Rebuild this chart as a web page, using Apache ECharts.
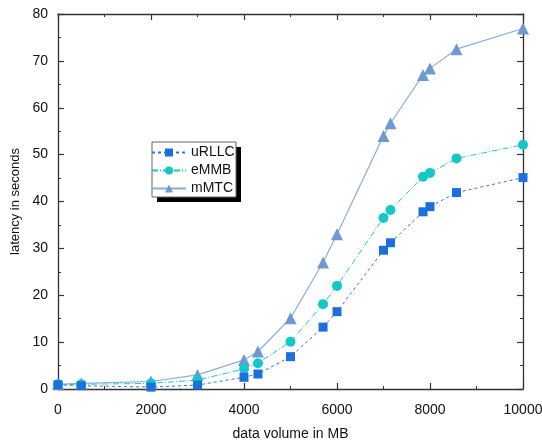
<!DOCTYPE html>
<html><head><meta charset="utf-8">
<script src="https://cdn.jsdelivr.net/npm/echarts@6/dist/echarts.min.js"></script>
<style>html,body{margin:0;padding:0;background:#fff}#c{width:542px;height:443px}</style>
</head><body><div id="c"></div>
<script>
const xValues = [0, 500, 2000, 3000, 4000, 4300, 5000, 5700, 6000, 7000, 7150, 7850, 8000, 8570, 10000];
const uRLLC = [0.9, 0.7, 0.4, 0.85, 2.5, 3.2, 6.9, 13.2, 16.5, 29.6, 31.2, 37.8, 38.9, 41.9, 45.1];
const eMMB  = [1.0, 1.0, 1.2, 1.9, 4.3, 5.5, 10.1, 18.1, 22.0, 36.5, 38.2, 45.3, 46.1, 49.2, 52.1];
const mMTC  = [1.0, 1.2, 1.6, 3.0, 6.2, 8.0, 15.1, 27.0, 33.0, 54.0, 56.7, 67.0, 68.4, 72.5, 76.9];
const seriesNames = ['uRLLC', 'eMMB', 'mMTC'];
const xTitle = 'data volume in MB';
const yTitle = 'latency in seconds';

const pair = (ys) => xValues.map((x, i) => [x, ys[i]]);
const font = 'Liberation Sans, Arial, sans-serif';
const axisCol = '#333';

const chart = echarts.init(document.getElementById('c'), null, {renderer: 'canvas'});
const baseX = {
  type: 'value', min: 0, max: 10000, interval: 2000,
  axisLine: {show: true, onZero: false, lineStyle: {color: axisCol, width: 1.3}},
  axisTick: {show: true, inside: true, length: 6, lineStyle: {color: axisCol, width: 1.2}},
  minorTick: {show: true, splitNumber: 2, length: 3, lineStyle: {color: axisCol, width: 1}},
  splitLine: {show: false}
};
const baseY = {
  type: 'value', min: 0, max: 80, interval: 10,
  axisLine: {show: true, onZero: false, lineStyle: {color: axisCol, width: 1.3}},
  axisTick: {show: true, inside: true, length: 6, lineStyle: {color: axisCol, width: 1.2}},
  minorTick: {show: true, splitNumber: 2, length: 3, lineStyle: {color: axisCol, width: 1}},
  splitLine: {show: false}
};
chart.setOption({
  animation: false,
  backgroundColor: '#fff',
  grid: {left: 58, right: 19, top: 14, bottom: 54, containLabel: false, outerBoundsMode: 'none'},
  graphic: [{
    type: 'rect', z: 1, zlevel: 0, silent: true, shape: {x: 157, y: 147, width: 84, height: 55},
    style: {fill: '#000'}
  }, {
    type: 'rect', z: 2, zlevel: 0, silent: true, shape: {x: 152, y: 142, width: 84, height: 55},
    style: {fill: '#fff', stroke: '#666', lineWidth: 1}
  }],
  legend: {
    orient: 'vertical', left: 151, top: 145, z: 20, padding: 0,
    itemWidth: 34, itemHeight: 10, itemGap: 3,
    textStyle: {fontFamily: font, fontSize: 14, lineHeight: 15, color: '#111', padding: [0, 0, 0, 0]},
    data: seriesNames
  },
  xAxis: [Object.assign({}, baseX, {
    position: 'bottom',
    name: xTitle, nameLocation: 'middle', nameGap: 38,
    nameTextStyle: {fontFamily: font, fontSize: 14, color: '#111'},
    axisLabel: {fontFamily: font, fontSize: 14, color: '#111', margin: 14, formatter: (v) => String(v)}
  }), Object.assign({}, baseX, {position: 'top', axisLabel: {show: false}})],
  yAxis: [Object.assign({}, baseY, {
    position: 'left',
    name: yTitle, nameLocation: 'middle', nameGap: 26,
    nameTextStyle: {fontFamily: font, fontSize: 13, color: '#111'},
    axisLabel: {fontFamily: font, fontSize: 14, color: '#111', margin: 10}
  }), Object.assign({}, baseY, {position: 'right', axisLabel: {show: false}})],
  series: [{
    name: seriesNames[0], type: 'line', data: pair(uRLLC), z: 4,
    symbol: 'rect', symbolSize: 9,
    itemStyle: {color: '#1c6fdf'},
    lineStyle: {color: '#2a76e0', width: 1, type: [3, 3]}
  }, {
    name: seriesNames[1], type: 'line', data: pair(eMMB), z: 3,
    symbol: 'circle', symbolSize: 10,
    itemStyle: {color: '#14c8c8'},
    lineStyle: {color: '#22c8cc', width: 1, type: [6, 2, 1, 2]}
  }, {
    name: seriesNames[2], type: 'line', data: pair(mMTC), z: 2,
    symbol: 'triangle', symbolSize: 12,
    itemStyle: {color: '#6b9bd2'},
    lineStyle: {color: '#8aaedb', width: 1.2}
  }]
});
</script></body></html>
